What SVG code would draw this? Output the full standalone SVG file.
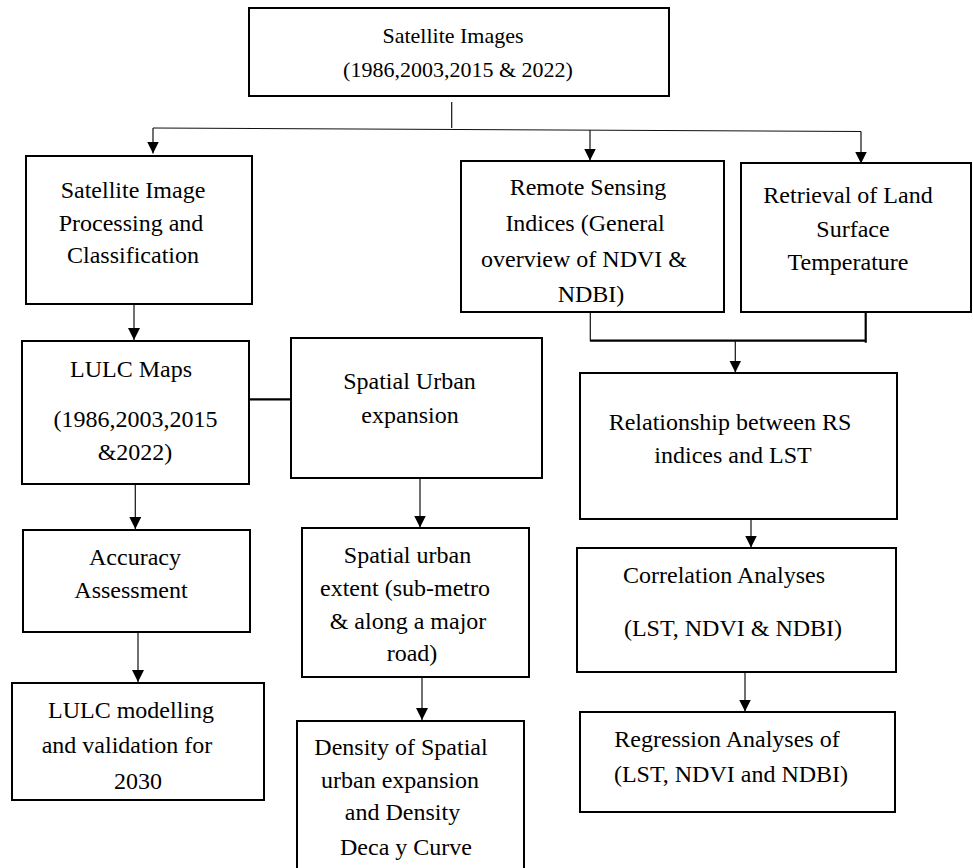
<svg xmlns="http://www.w3.org/2000/svg" width="973" height="868" viewBox="0 0 973 868">
<style>
.box{fill:#fff;stroke:#000;stroke-width:2}
text{font-family:"Liberation Serif","Times New Roman",serif;font-size:24px;fill:#000;text-anchor:middle}
.t22{font-size:22px}
.c{fill:none;stroke:#111;stroke-width:1.2}
.ca{fill:none;stroke:#111;stroke-width:1.2;marker-end:url(#ah)}
.ct{fill:none;stroke:#000;stroke-width:2.2}
</style>
<defs>
<marker id="ah" markerUnits="userSpaceOnUse" markerWidth="12" markerHeight="12" viewBox="0 0 12 12" refX="12" refY="6" orient="auto">
<path d="M0,0 L12,6 L0,12 z" fill="#000"/>
</marker>
</defs>
<rect width="973" height="868" fill="#fff"/>
<g id="connectors">
<path class="c" d="M451.7,102 V128"/>
<path class="c" d="M153,128 L861,131.5"/>
<path class="ca" d="M153,128 V153.5"/>
<path class="ca" d="M590,130 V160.5"/>
<path class="ca" d="M861,131.5 V163.5"/>
<path class="ca" d="M134,304 V340"/>
<path class="ct" d="M249,399.3 H291"/>
<path class="c" d="M590.3,312 V341"/>
<path class="ct" d="M865.7,312 V342.7"/>
<path class="ct" d="M590,340.7 H865.7"/>
<path class="ca" d="M735.3,341 V372.5"/>
<path class="ca" d="M420,478 V527.5"/>
<path class="ca" d="M422,677 V720"/>
<path class="ca" d="M135.3,484 V529"/>
<path class="ca" d="M138,632 V682"/>
<path class="ca" d="M751,519 V547.5"/>
<path class="ca" d="M745,672 V711.5"/>
</g>
<g id="n-satellite-images">
<rect class="box" x="249" y="8" width="420" height="88"/>
<text class="t22" x="453" y="43">Satellite Images</text>
<text class="t22" x="458" y="77">(1986,2003,2015 &amp; 2022)</text>
</g>
<g id="n-processing">
<rect class="box" x="26" y="156" width="226" height="148"/>
<text x="133" y="198">Satellite Image</text>
<text x="131" y="231">Processing and</text>
<text x="133" y="263">Classification</text>
</g>
<g id="n-rs-indices">
<rect class="box" x="461" y="161" width="263" height="151"/>
<text x="588" y="195">Remote Sensing</text>
<text x="585" y="231">Indices (General</text>
<text x="584" y="267">overview of NDVI &amp;</text>
<text x="591" y="302">NDBI)</text>
</g>
<g id="n-lst">
<rect class="box" x="741" y="163" width="230" height="149"/>
<text x="848" y="203">Retrieval of Land</text>
<text x="853" y="237">Surface</text>
<text x="848" y="270">Temperature</text>
</g>
<g id="n-lulc-maps">
<rect class="box" x="22" y="341" width="227" height="143"/>
<text x="131" y="377">LULC Maps</text>
<text x="135.5" y="427">(1986,2003,2015</text>
<text x="135" y="460">&amp;2022)</text>
</g>
<g id="n-spatial-urban">
<rect class="box" x="291" y="338" width="251" height="140"/>
<text x="409.5" y="389">Spatial Urban</text>
<text x="410" y="423">expansion</text>
</g>
<g id="n-relationship">
<rect class="box" x="580" y="373" width="317" height="146"/>
<text x="730" y="430">Relationship between RS</text>
<text x="733" y="463">indices and LST</text>
</g>
<g id="n-accuracy">
<rect class="box" x="23" y="530" width="227" height="102"/>
<text x="135" y="565">Accuracy</text>
<text x="131" y="598">Assessment</text>
</g>
<g id="n-extent">
<rect class="box" x="302" y="528" width="227" height="149"/>
<text x="407.5" y="563">Spatial urban</text>
<text x="405" y="596">extent (sub-metro</text>
<text x="408" y="629">&amp; along a major</text>
<text x="412" y="661">road)</text>
</g>
<g id="n-correlation">
<rect class="box" x="577" y="548" width="319" height="124"/>
<text x="724" y="583">Correlation Analyses</text>
<text x="733" y="636">(LST, NDVI &amp; NDBI)</text>
</g>
<g id="n-modelling">
<rect class="box" x="12" y="683" width="252" height="117"/>
<text x="131" y="718">LULC modelling</text>
<text x="127" y="753">and validation for</text>
<text x="138" y="789">2030</text>
</g>
<g id="n-density">
<rect class="box" x="297" y="721" width="227" height="152"/>
<text x="401" y="755">Density of Spatial</text>
<text x="400" y="788">urban expansion</text>
<text x="402.5" y="820">and Density</text>
<text x="406" y="855">Deca y Curve</text>
</g>
<g id="n-regression">
<rect class="box" x="580" y="712" width="315" height="100"/>
<text x="727" y="747">Regression Analyses of</text>
<text x="731" y="782">(LST, NDVI and NDBI)</text>
</g>
</svg>
